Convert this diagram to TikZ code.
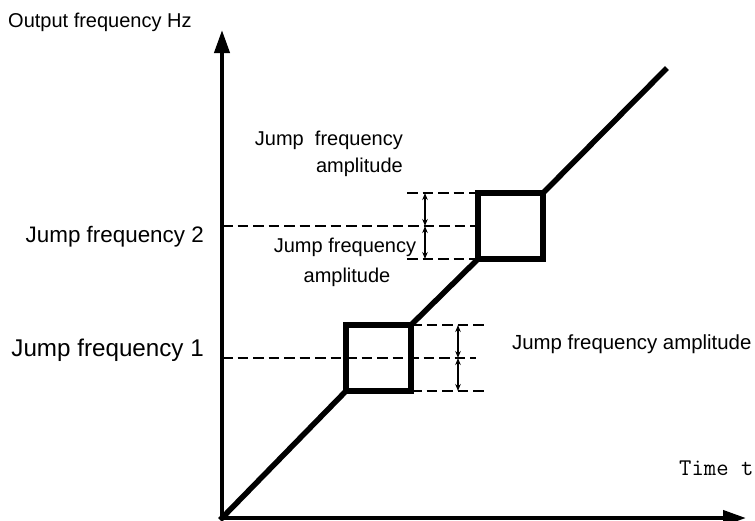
\documentclass[tikz,border=0pt]{standalone}
\usepackage{fontspec}
\setmainfont{Liberation Sans}
\usetikzlibrary{arrows.meta}
\begin{document}
\begin{tikzpicture}[x=1pt,y=-1pt,
  axisline/.style={line width=4pt,-{Triangle[length=23pt,width=15pt]}},
  curveline/.style={line width=5.5pt,line join=miter,line cap=rect},
  dashline/.style={line width=2.3pt,dash pattern=on 10.5pt off 5pt},
  dimline/.style={line width=1.3pt,{Stealth[length=7pt,width=5.5pt]}-{Stealth[length=7pt,width=5.5pt]}},
  lbl/.style={inner sep=0pt,font=\fontsize{20}{24}\selectfont}]
\useasboundingbox (0,0) rectangle (755,520);
% coordinates
\coordinate (O) at (222,518);
\coordinate (ytip) at (222,30);
\coordinate (xtip) at (746,518);
\coordinate (b1bl) at (346,391);
\coordinate (b1tr) at (411,325);
\coordinate (b2bl) at (478,259);
\coordinate (b2tr) at (543,193);
\coordinate (E) at (665,70);
% dashed lines
\coordinate (m1a) at (222,358); \coordinate (m1b) at (476,358);
\coordinate (t1a) at (411,325); \coordinate (t1b) at (484,325);
\coordinate (u1a) at (411,391); \coordinate (u1b) at (484,391);
\coordinate (m2a) at (222,226); \coordinate (m2b) at (478,226);
\coordinate (t2a) at (407,193); \coordinate (t2b) at (478,193);
\coordinate (u2a) at (407,259); \coordinate (u2b) at (478,259);
\draw[dashline] (m1a) -- (m1b);
\draw[dashline] (t1a) -- (t1b);
\draw[dashline] (u1a) -- (u1b);
\draw[dashline] (m2a) -- (m2b);
\draw[dashline] (t2a) -- (t2b);
\draw[dashline] (u2a) -- (u2b);
% dimension arrows
\coordinate (d1t) at (458,325); \coordinate (d1m) at (458,358); \coordinate (d1u) at (458,391);
\coordinate (d2t) at (425,193); \coordinate (d2m) at (425,226); \coordinate (d2u) at (425,259);
\draw[dimline] (d1t) -- (d1m);
\draw[dimline] (d1m) -- (d1u);
\draw[dimline] (d2t) -- (d2m);
\draw[dimline] (d2m) -- (d2u);
% curve and boxes
\draw[curveline] (O) -- (b1bl);
\draw[curveline] (b1tr) -- (b2bl);
\draw[curveline] (b2tr) -- (E);
\draw[curveline] (b1bl) rectangle (b1tr);
\draw[curveline] (b2bl) rectangle (b2tr);
% axes
\draw[axisline] (O) -- (ytip);
\draw[axisline] (O) -- (xtip);
% labels
\node[lbl,anchor=base west] (ylab) at (8,27) {Output frequency Hz};
\node[lbl,anchor=base east,font=\fontsize{22.4}{26}\selectfont] (jf2) at (204,242) {Jump frequency 2};
\node[lbl,anchor=base east,font=\fontsize{24.2}{28}\selectfont] (jf1) at (204,356) {Jump frequency 1};
\node[lbl,anchor=base west,font=\fontsize{20.4}{24}\selectfont] (amp1) at (512,349) {Jump frequency amplitude};
\node[lbl,anchor=base east] (amp2a) at (403,145) {Jump\ \ frequency};
\node[lbl,anchor=base east] (amp2b) at (403,172) {amplitude};
\node[lbl,anchor=base] (amp3a) at (345,252) {Jump frequency};
\node[lbl,anchor=base] (amp3b) at (347,282) {amplitude};
\node[inner sep=0pt,anchor=base west,font=\ttfamily\fontsize{24}{27}\selectfont] (tlab) at (679,475) {Time t};
\end{tikzpicture}
\end{document}
